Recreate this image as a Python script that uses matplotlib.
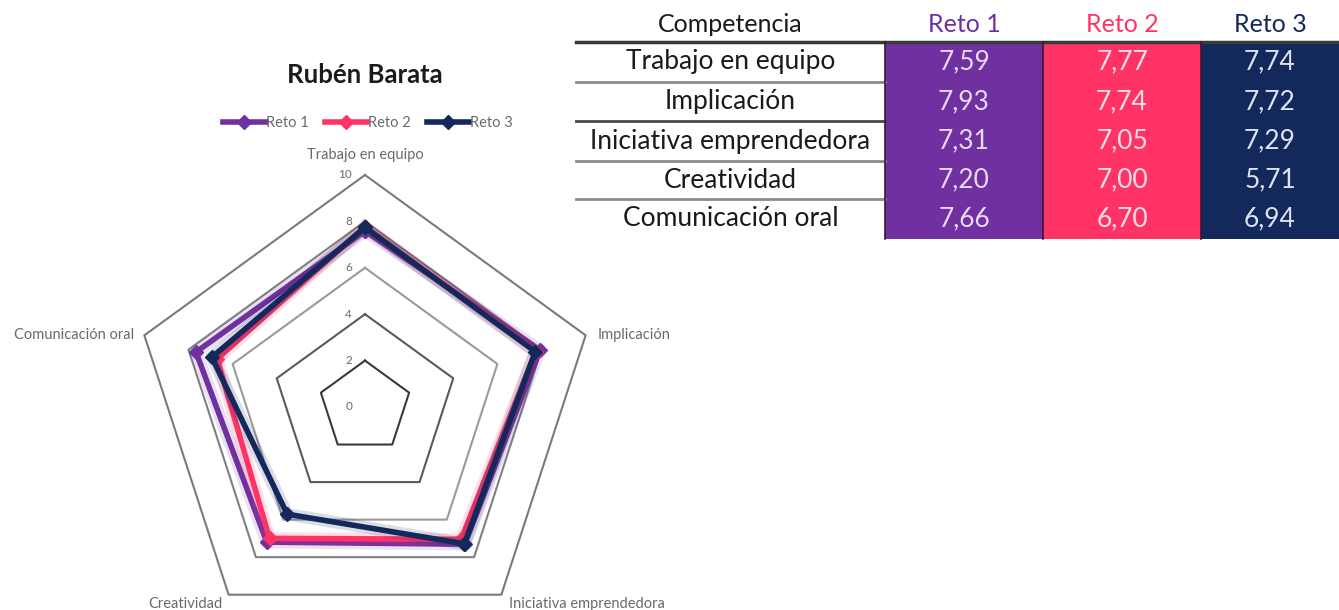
import numpy as np
import matplotlib
matplotlib.use("Agg")
import matplotlib.pyplot as plt  # noqa: E402
from matplotlib.patches import Rectangle  # noqa: E402

plt.rcParams["font.family"] = ["Lato", "DejaVu Sans"]

TITLE = "Rubén Barata"
COMPETENCIAS = ["Trabajo en equipo", "Implicación", "Iniciativa emprendedora",
                "Creatividad", "Comunicación oral"]
RETOS = ["Reto 1", "Reto 2", "Reto 3"]
RETO1 = [7.59, 7.93, 7.31, 7.20, 7.66]
RETO2 = [7.77, 7.74, 7.05, 7.00, 6.70]
RETO3 = [7.74, 7.72, 7.29, 5.71, 6.94]
RING_TICKS = [0, 2, 4, 6, 8, 10]
HEADER = "Competencia"

COLORS = ["#7030A0", "#FF3366", "#13285B"]
TEXT_ON = ["#E6DAF2", "#FFE0E8", "#DCE2EE"]
W, H = 1339, 610


def main():
    fig = plt.figure(figsize=(W / 100, H / 100), dpi=100)

    # --- table (drawn in pixel coords on a full-figure axes) ---
    tab = fig.add_axes([0, 0, 1, 1])
    tab.set_xlim(0, W)
    tab.set_ylim(H, 0)
    tab.axis("off")
    colEdges = [576, 885, 1043, 1201, 1339]
    rowEdges = [42, 82, 121, 161, 199, 239]
    seriesList = [RETO1, RETO2, RETO3]

    tab.text((colEdges[0] + colEdges[1]) / 2, 25, HEADER, ha="center", va="center",
             fontsize=18, color="#1a1a1a")
    for j, name in enumerate(RETOS):
        xc = (colEdges[j + 1] + colEdges[j + 2]) / 2
        tab.text(xc, 25, name, ha="center", va="center", fontsize=18, color=COLORS[j])
        tab.add_patch(Rectangle((colEdges[j + 1], rowEdges[0]), colEdges[j + 2] - colEdges[j + 1],
                                rowEdges[-1] - rowEdges[0], color=COLORS[j], lw=0))
    for i, comp in enumerate(COMPETENCIAS):
        yc = (rowEdges[i] + rowEdges[i + 1]) / 2
        tab.text((colEdges[0] + colEdges[1]) / 2, yc, comp, ha="center", va="center",
                 fontsize=19, color="#1a1a1a")
        for j, ser in enumerate(seriesList):
            xc = (colEdges[j + 1] + colEdges[j + 2]) / 2
            tab.text(xc, yc, f"{ser[i]:.2f}".replace(".", ","), ha="center", va="center",
                     fontsize=19, color=TEXT_ON[j])
    tab.plot([colEdges[0], colEdges[-1]], [rowEdges[0], rowEdges[0]], color="#3a3a3a", lw=2.5)
    sepColors = ["#8a8a8a", "#4a4a4a", "#8a8a8a", "#8a8a8a"]
    for y, c in zip(rowEdges[1:-1], sepColors):
        tab.plot([colEdges[0], colEdges[1]], [y, y], color=c, lw=2)
    for x in colEdges[1:-1]:
        tab.plot([x, x], [rowEdges[0], rowEdges[-1]], color="#3b1730", lw=1.2)

    # --- radar chart ---
    cx, cy, R = 365, 407, 232
    ax = fig.add_axes([(cx - R) / W, (H - cy - R) / H, 2 * R / W, 2 * R / H], projection="polar")
    ax.set_theta_offset(np.pi / 2)
    ax.set_theta_direction(-1)
    ax.set_ylim(0, 10)
    ax.grid(False)
    ax.set_xticks([])
    ax.set_yticks([])
    ax.spines["polar"].set_visible(False)
    ax.patch.set_alpha(0)

    angles = np.linspace(0, 2 * np.pi, len(COMPETENCIAS), endpoint=False)
    closed = np.append(angles, angles[0])

    ringColors = {2: "#3a3a3a", 4: "#5a5a5a", 6: "#9a9a9a", 8: "#808080", 10: "#7a7a7a"}
    for r in RING_TICKS[1:]:
        ax.plot(closed, [r] * len(closed), color=ringColors[r], lw=1.5, clip_on=False)

    for ser, col, name in zip(seriesList, COLORS, RETOS):
        vals = ser + ser[:1]
        # soft glow under each series, like the Excel shadow
        ax.plot(closed, vals, color=col, lw=9, alpha=0.15, clip_on=False)
        ax.plot(closed, vals, color=col, lw=4, marker="D", ms=7,
                label=name, clip_on=False)

    for r in RING_TICKS:
        ax.annotate(str(r), (0, r), xytext=(-13, 0), textcoords="offset pixels",
                    ha="right", va="center", fontsize=8.5, color="#6a6a6a")

    offs = [((0, 20), "center"), ((12, 0), "left"), ((8, -9), "left"),
            ((-6, -9), "right"), ((-10, 0), "right")]
    for ang, lab, (off, ha) in zip(angles, COMPETENCIAS, offs):
        ax.annotate(lab, (ang, 10), xytext=off, textcoords="offset pixels",
                    ha=ha, va="center", fontsize=10.5, color="#6a6a6a", annotation_clip=False)

    fig.text(cx / W, 1 - 75 / H, TITLE, ha="center", va="center", fontsize=18.5,
             fontweight="bold", color="#1a1a1a")
    handles, labels = ax.get_legend_handles_labels()
    fig.legend(handles, labels, loc="center", bbox_to_anchor=(368 / W, 1 - 123 / H),
               ncol=3, frameon=False, fontsize=10.5, handlelength=2.9, columnspacing=1.1,
               handletextpad=0.05, labelcolor="#6a6a6a")

    fig.savefig("out.png", dpi=100)


if __name__ == "__main__":
    main()
